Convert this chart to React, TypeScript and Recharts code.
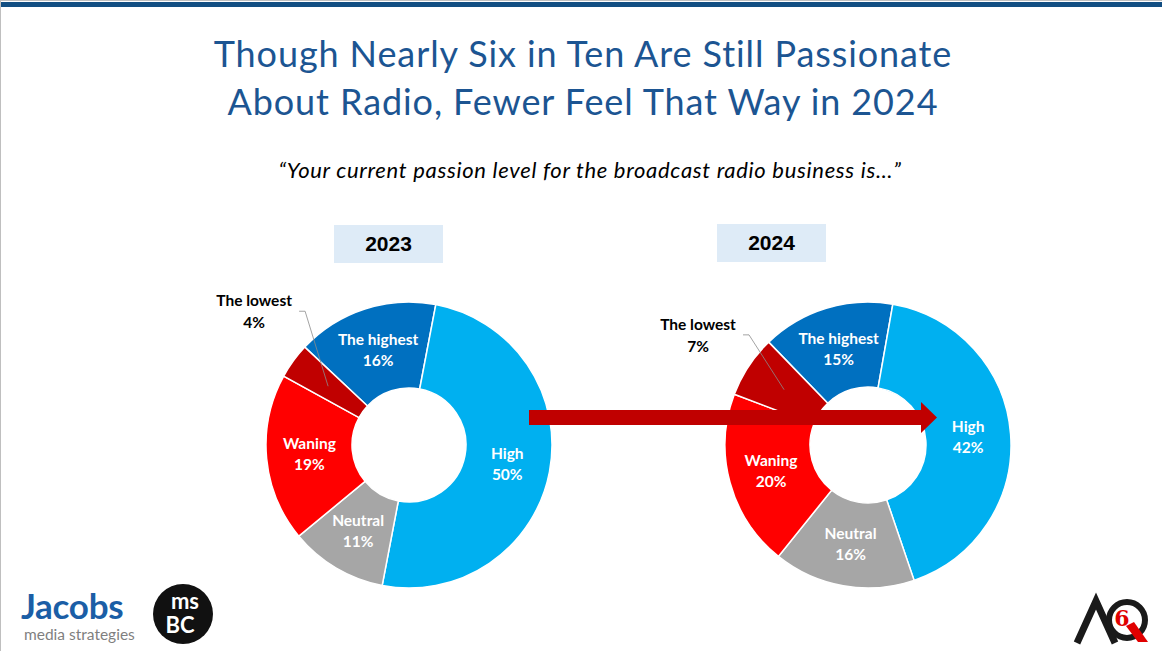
import React from 'react';
import { PieChart, Pie, Cell } from 'recharts';

const categories = ['The highest', 'High', 'Neutral', 'Waning', 'The lowest'];
const values2023 = [16, 50, 11, 19, 4];
const values2024 = [15, 42, 16, 20, 7];
const sliceColors = ['#0070C0', '#00B0F0', '#A6A6A6', '#FF0000', '#C00000'];

const data2023 = categories.map((name, i) => ({ name, value: values2023[i] }));
const data2024 = categories.map((name, i) => ({ name, value: values2024[i] }));

const RAD = Math.PI / 180;
const labelFont = 'Lato, "Open Sans", sans-serif';

// outside label for the small slice: radius and angle nudge differ per chart
const makeLabel = (outR: number, shift: number) => (props: any) => {
  const { cx, cy, midAngle, innerRadius, outerRadius, name, value } = props;
  const mid = (innerRadius + outerRadius) / 2;
  const mx = cx + mid * Math.cos(-midAngle * RAD);
  const my = cy + mid * Math.sin(-midAngle * RAD);

  if (name === 'The lowest') {
    const a = midAngle + shift;
    const lx = cx + outR * Math.cos(-a * RAD);
    const ly = cy + outR * Math.sin(-a * RAD);
    return (
      <g>
        <polyline
          points={`${lx + 45},${ly - 1} ${lx + 51},${ly - 1} ${mx},${my}`}
          fill="none"
          stroke="#8C8C8C"
          strokeWidth={0.8}
        />
        <text x={lx} y={ly - 6} textAnchor="middle" fontFamily={labelFont} fontWeight={700} fontSize={15.5} fill="#000">
          {name}
        </text>
        <text x={lx} y={ly + 16} textAnchor="middle" fontFamily={labelFont} fontWeight={700} fontSize={15.5} fill="#000">
          {value}%
        </text>
      </g>
    );
  }

  return (
    <g>
      <text x={mx} y={my - 5} textAnchor="middle" fontFamily={labelFont} fontWeight={700} fontSize={15.5} fill="#fff">
        {name}
      </text>
      <text x={mx} y={my + 16} textAnchor="middle" fontFamily={labelFont} fontWeight={700} fontSize={15.5} fill="#fff">
        {value}%
      </text>
    </g>
  );
};

const yearBox = (left: number, top: number, label: string) => (
  <div
    style={{
      position: 'absolute',
      left,
      top,
      width: 109,
      height: 38,
      background: '#DEEBF7',
      display: 'flex',
      alignItems: 'center',
      justifyContent: 'center',
      fontFamily: '"Liberation Sans", Arial, sans-serif',
      fontWeight: 700,
      fontSize: 21,
      color: '#000',
    }}
  >
    {label}
  </div>
);

export default function App() {
  return (
    <div style={{ position: 'absolute', left: 0, top: 0, width: 1162, height: 651, background: '#fff', overflow: 'hidden' }}>
      {/* frame lines */}
      <div style={{ position: 'absolute', left: 0, top: 0, width: 1162, height: 1, background: '#BFBFBF' }} />
      <div style={{ position: 'absolute', left: 0, top: 0, width: 1, height: 651, background: '#BFBFBF' }} />
      <div style={{ position: 'absolute', left: 1, top: 2, width: 1161, height: 5, background: '#124E82' }} />

      <div
        style={{
          position: 'absolute',
          left: 0,
          top: 29,
          width: 1166,
          textAlign: 'center',
          fontFamily: labelFont,
          fontSize: 36,
          letterSpacing: 0.9,
          lineHeight: '48px',
          color: '#1C5592',
        }}
      >
        Though Nearly Six in Ten Are Still Passionate
        <br />
        About Radio, Fewer Feel That Way in 2024
      </div>

      <div
        style={{
          position: 'absolute',
          left: 0,
          top: 156,
          width: 1180,
          textAlign: 'center',
          fontFamily: labelFont,
          fontStyle: 'italic',
          fontSize: 22,
          letterSpacing: 0.7,
          color: '#000',
        }}
      >
        “Your current passion level for the broadcast radio business is…”
      </div>

      {yearBox(334, 225, '2023')}
      {yearBox(717, 224, '2024')}

      <div style={{ position: 'absolute', left: 0, top: 0 }}>
        <PieChart width={1162} height={651} margin={{ top: 0, right: 0, bottom: 0, left: 0 }}>
          <Pie
            data={data2023}
            dataKey="value"
            nameKey="name"
            cx={409}
            cy={445}
            innerRadius={57}
            outerRadius={143}
            startAngle={136.8}
            endAngle={-223.2}
            stroke="#fff"
            strokeWidth={1.5}
            label={makeLabel(204, -4.6)}
            labelLine={false}
            isAnimationActive={false}
          >
            {data2023.map((d, i) => (
              <Cell key={d.name} fill={sliceColors[i]} />
            ))}
          </Pie>
          <Pie
            data={data2024}
            dataKey="value"
            nameKey="name"
            cx={868}
            cy={445}
            innerRadius={58}
            outerRadius={143}
            startAngle={134}
            endAngle={-226}
            stroke="#fff"
            strokeWidth={1.5}
            label={makeLabel(202, 0.7)}
            labelLine={false}
            isAnimationActive={false}
          >
            {data2024.map((d, i) => (
              <Cell key={d.name} fill={sliceColors[i]} />
            ))}
          </Pie>
        </PieChart>
      </div>

      {/* arrow between the years */}
      <svg style={{ position: 'absolute', left: 0, top: 0 }} width={1162} height={651}>
        <polygon points="529,410 921,410 921,402 937,417.5 921,433 921,425 529,425" fill="#C00000" />
      </svg>

      {/* logos */}
      <div
        style={{
          position: 'absolute',
          left: 21,
          top: 589,
          fontFamily: labelFont,
          fontWeight: 700,
          fontSize: 35,
          color: '#1B5EA6',
          letterSpacing: -0.3,
          lineHeight: '32px',
        }}
      >
        Jacobs
      </div>
      <div
        style={{
          position: 'absolute',
          left: 24,
          top: 626,
          fontFamily: labelFont,
          fontSize: 15.5,
          lineHeight: '16px',
          color: '#7F7F7F',
        }}
      >
        media strategies
      </div>
      <svg style={{ position: 'absolute', left: 0, top: 0 }} width={1162} height={651}>
        <circle cx={183} cy={614} r={30} fill="#111" />
        <text textAnchor="middle" fontFamily={labelFont} fontSize={22} fill="#fff" fontWeight={700}>
          <tspan x={185} y={609}>ms</tspan>
          <tspan x={180} y={633}>BC</tspan>
        </text>
        <path d="M1077,643 L1096,601 L1115,643" fill="none" stroke="#1A1A1A" strokeWidth={7} />
        <circle cx={1127} cy={620} r={18} fill="none" stroke="#1A1A1A" strokeWidth={6} />
        <text x={1122} y={626} textAnchor="middle" fontFamily='"DejaVu Serif", serif' fontSize={22} fontWeight={700} fill="#E00000">
          6
        </text>
        <polygon points="1126,626 1134,622 1148,642 1138,642" fill="#E00000" />
      </svg>
    </div>
  );
}
